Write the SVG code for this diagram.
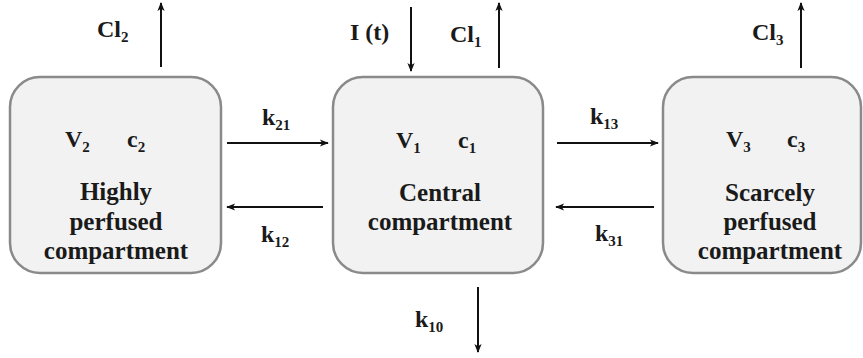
<svg xmlns="http://www.w3.org/2000/svg" width="863" height="358" viewBox="0 0 863 358" font-family="Liberation Serif, Times New Roman, Times, DejaVu Serif, Noto Serif, serif">
<defs>
<marker id="ah" viewBox="0 0 10 10" refX="9" refY="5" markerWidth="10" markerHeight="9" markerUnits="userSpaceOnUse" orient="auto">
<path d="M0,1 L10,5 L0,9 L2.5,5 z" fill="#111"/>
</marker>
<style>
.box{fill:#f2f2f2;stroke:#8a8a8a;stroke-width:2.5}
.t{font-weight:bold;fill:#1a1a1a}
.big{font-size:25px;text-anchor:middle}
.lab{font-size:24px}
.sub{font-size:15px}
.arr{stroke:#111;stroke-width:2;fill:none;marker-end:url(#ah)}
</style>
</defs>
<rect width="863" height="358" fill="#ffffff"/>
<g id="highly">
<rect class="box" x="10" y="77" width="211" height="196" rx="30" ry="30"/>
<text class="t lab" x="65" y="147">V<tspan class="sub" dy="5">2</tspan></text>
<text class="t lab" x="127" y="147">c<tspan class="sub" dy="5">2</tspan></text>
<text class="t big" x="116" y="200">Highly</text>
<text class="t big" x="116" y="230">perfused</text>
<text class="t big" x="116" y="259">compartment</text>
</g>
<g id="central">
<rect class="box" x="333" y="77" width="210" height="196" rx="30" ry="30"/>
<text class="t lab" x="396" y="148">V<tspan class="sub" dy="5">1</tspan></text>
<text class="t lab" x="458" y="148">c<tspan class="sub" dy="5">1</tspan></text>
<text class="t big" x="440" y="201">Central</text>
<text class="t big" x="440" y="230">compartment</text>
</g>
<g id="scarcely">
<rect class="box" x="663" y="77" width="198" height="196" rx="30" ry="30"/>
<text class="t lab" x="726" y="147">V<tspan class="sub" dy="5">3</tspan></text>
<text class="t lab" x="787" y="147">c<tspan class="sub" dy="5">3</tspan></text>
<text class="t big" x="770" y="201">Scarcely</text>
<text class="t big" x="770" y="230">perfused</text>
<text class="t big" x="770" y="259">compartment</text>
</g>
<g id="connectors">
<path class="arr" d="M161,67 V3"/>
<path class="arr" d="M411,7 V71"/>
<path class="arr" d="M499,68 V3"/>
<path class="arr" d="M801,68 V3"/>
<path class="arr" d="M227,143 H328"/>
<path class="arr" d="M323,207 H227"/>
<path class="arr" d="M557,143 H658"/>
<path class="arr" d="M654,207 H556"/>
<path class="arr" d="M478,287 V352"/>
<text class="t lab" x="97" y="37">Cl<tspan class="sub" dy="5">2</tspan></text>
<text class="t lab" x="350" y="40">I (t)</text>
<text class="t lab" x="450" y="42">Cl<tspan class="sub" dy="5">1</tspan></text>
<text class="t lab" x="752" y="40">Cl<tspan class="sub" dy="5">3</tspan></text>
<text class="t lab" x="262" y="125">k<tspan class="sub" dy="5">21</tspan></text>
<text class="t lab" x="261" y="242">k<tspan class="sub" dy="5">12</tspan></text>
<text class="t lab" x="590" y="124">k<tspan class="sub" dy="5">13</tspan></text>
<text class="t lab" x="595" y="241">k<tspan class="sub" dy="5">31</tspan></text>
<text class="t lab" x="415" y="327">k<tspan class="sub" dy="5">10</tspan></text>
</g>
</svg>
